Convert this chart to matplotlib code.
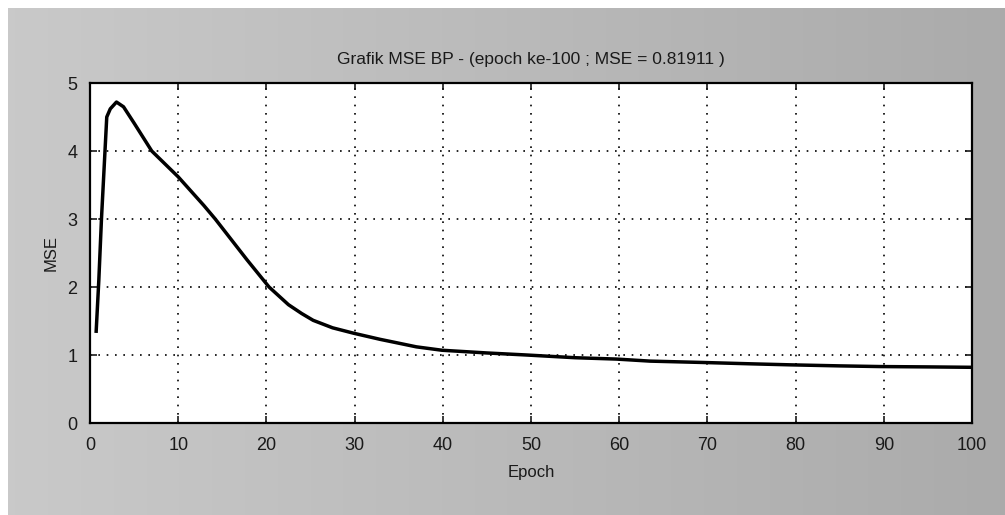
import matplotlib
matplotlib.use('Agg')
import matplotlib.pyplot as plt
import numpy as np

plt.rcParams['font.family'] = ['Liberation Sans', 'DejaVu Sans']

# MSE per epoch
epochs = [0.7, 1.0, 1.3, 1.7, 1.9, 2.3, 3.0, 3.8, 5.0, 7.0, 10.0, 12.9, 14.2,
          17.8, 20.3, 22.5, 24.0, 25.3, 27.5, 29.9, 32.9, 34.4, 37.0, 39.9,
          45.0, 49.5, 55.0, 59.7, 63.5, 69.5, 75.0, 79.5, 85.0, 89.6, 95.0,
          100.0]
mse = [1.35, 2.1, 3.0, 4.0, 4.5, 4.62, 4.72, 4.65, 4.41, 4.0, 3.62, 3.2, 3.0,
       2.40, 2.0, 1.74, 1.61, 1.51, 1.40, 1.32, 1.23, 1.19, 1.12, 1.07,
       1.03, 1.0, 0.96, 0.94, 0.91, 0.89, 0.87, 0.855, 0.84, 0.83, 0.825,
       0.819]

x_ticks = [0, 10, 20, 30, 40, 50, 60, 70, 80, 90, 100]
y_ticks = [0, 1, 2, 3, 4, 5]
title = 'Grafik MSE BP - (epoch ke-100 ; MSE = 0.81911 )'

W, H = 1005, 515
fig = plt.figure(figsize=(W / 100, H / 100), dpi=100, facecolor='white')

# grey scanned-paper background, white strip along top and left edges
shade = np.linspace(0.79, 0.67, W)[None, :, None] * np.ones((H, W, 3))
shade[-8:, :, :] = 1.0   # origin lower: last rows are the top of the figure
shade[:, :8, :] = 1.0
fig.figimage(shade, xo=0, yo=0, origin='lower', zorder=-1)

ax = fig.add_axes([90 / W, 1 - 423 / H, 882 / W, 340 / H])
ax.plot(epochs, mse, color='black', linewidth=2.5, solid_joinstyle='round')

ax.set_xlim(0, 100)
ax.set_ylim(0, 5)
ax.set_xticks(x_ticks)
ax.set_yticks(y_ticks)
ax.tick_params(direction='in', length=5, width=1.2, labelsize=13,
               top=True, right=True, colors='#1a1a1a')
ax.tick_params(axis='x', pad=10)
ax.tick_params(axis='y', pad=9)
ax.grid(True, color='black', linestyle=(0, (1, 4)), linewidth=1.2)
for s in ax.spines.values():
    s.set_linewidth(1.6)

ax.set_title(title, fontsize=12.5, color='#1a1a1a', pad=14)
ax.set_xlabel('Epoch', fontsize=12, color='#1a1a1a', labelpad=8)
ax.set_ylabel('MSE', fontsize=12, color='#1a1a1a', labelpad=6)

fig.savefig('out.png', dpi=100)
